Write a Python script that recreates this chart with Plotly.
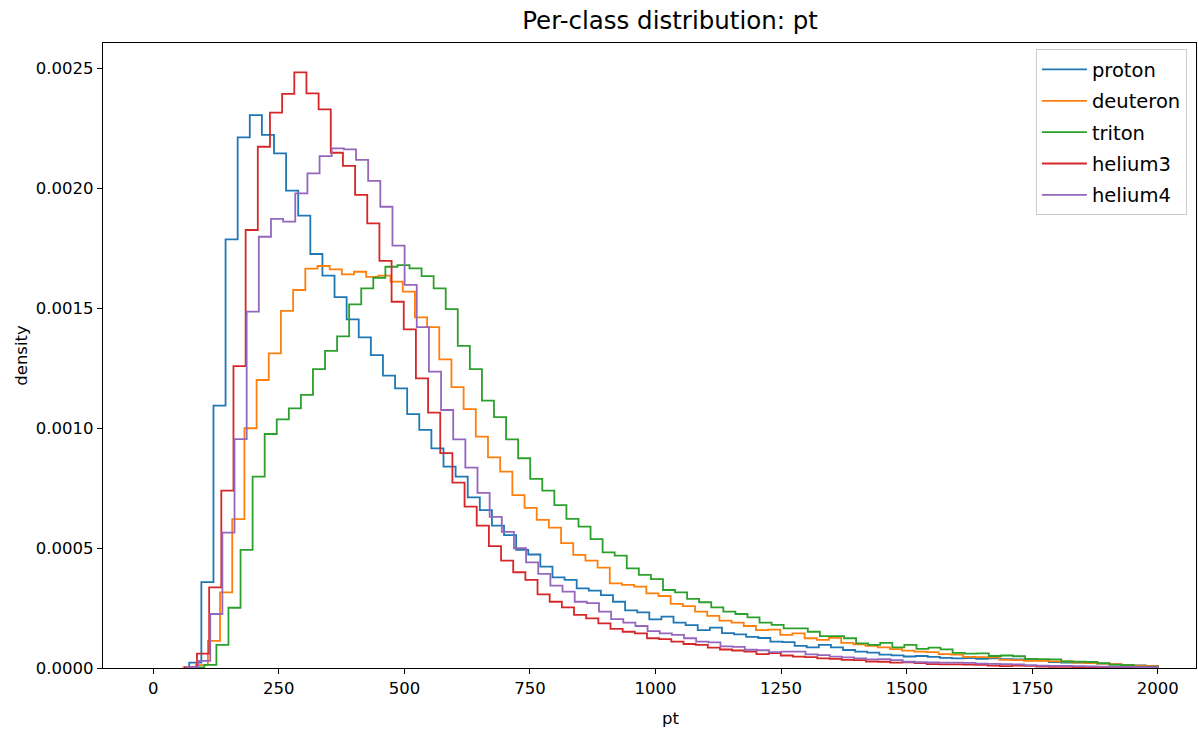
import numpy as np
import plotly.graph_objects as go

classes = ["proton", "deuteron", "triton", "helium3", "helium4"]
colors = ["#1f77b4", "#ff7f0e", "#2ca02c", "#d62728", "#9467bd"]

# per-class histogram range (80 bins each, up to pt = 2000)
n_bins = 80
pt_max = 2000.0
pt_min = {"proton": 71.7, "deuteron": 60.3, "triton": 77.7, "helium3": 62.9, "helium4": 65.1}

proton = [0.000022, 0.000358, 0.001093, 0.001786, 0.002211, 0.002304, 0.002221, 0.002144, 0.001989, 0.001885,
          0.001725, 0.001635, 0.001545, 0.001453, 0.001378, 0.001304, 0.001218, 0.001165, 0.001058, 0.000992,
          0.000915, 0.000839, 0.000797, 0.000711, 0.000658, 0.000593, 0.000554, 0.000492, 0.000473, 0.000422,
          0.000378, 0.000367, 0.000332, 0.000322, 0.000304, 0.000276, 0.000240, 0.000232, 0.000203, 0.000214,
          0.000189, 0.000179, 0.000158, 0.000168, 0.000145, 0.000140, 0.000130, 0.000125, 0.000110, 0.000108,
          0.000092, 0.000086, 0.000096, 0.000086, 0.000075, 0.000068, 0.000064, 0.000056, 0.000053, 0.000048,
          0.000050, 0.000046, 0.000042, 0.000040, 0.000041, 0.000038, 0.000040, 0.000037, 0.000036, 0.000033,
          0.000032, 0.000025, 0.000023, 0.000022, 0.000020, 0.000018, 0.000016, 0.000013, 0.000011, 0.000009]

deuteron = [0.000004, 0.000012, 0.000113, 0.000315, 0.000620, 0.000999, 0.001200, 0.001311, 0.001488, 0.001575,
            0.001664, 0.001675, 0.001661, 0.001640, 0.001651, 0.001630, 0.001635, 0.001610, 0.001568, 0.001461,
            0.001420, 0.001286, 0.001170, 0.001079, 0.000964, 0.000878, 0.000818, 0.000720, 0.000667, 0.000617,
            0.000585, 0.000520, 0.000471, 0.000447, 0.000418, 0.000353, 0.000346, 0.000339, 0.000311, 0.000300,
            0.000267, 0.000258, 0.000235, 0.000217, 0.000197, 0.000189, 0.000175, 0.000158, 0.000160, 0.000138,
            0.000144, 0.000124, 0.000117, 0.000126, 0.000105, 0.000099, 0.000092, 0.000086, 0.000079, 0.000072,
            0.000068, 0.000066, 0.000058, 0.000056, 0.000046, 0.000045, 0.000044, 0.000034, 0.000033, 0.000030,
            0.000030, 0.000028, 0.000027, 0.000022, 0.000020, 0.000018, 0.000016, 0.000012, 0.000010, 0.000008]

triton = [0.000002, 0.000013, 0.000096, 0.000251, 0.000492, 0.000797, 0.000975, 0.001036, 0.001082, 0.001138,
          0.001245, 0.001321, 0.001382, 0.001515, 0.001582, 0.001626, 0.001672, 0.001679, 0.001665, 0.001633,
          0.001582, 0.001495, 0.001342, 0.001245, 0.001114, 0.001045, 0.000953, 0.000874, 0.000788, 0.000739,
          0.000679, 0.000621, 0.000589, 0.000537, 0.000482, 0.000468, 0.000415, 0.000388, 0.000370, 0.000325,
          0.000315, 0.000288, 0.000274, 0.000253, 0.000235, 0.000225, 0.000211, 0.000189, 0.000180, 0.000165,
          0.000165, 0.000151, 0.000133, 0.000133, 0.000124, 0.000103, 0.000096, 0.000105, 0.000086, 0.000096,
          0.000080, 0.000085, 0.000078, 0.000063, 0.000060, 0.000061, 0.000050, 0.000052, 0.000049, 0.000038,
          0.000037, 0.000036, 0.000027, 0.000026, 0.000025, 0.000020, 0.000013, 0.000012, 0.000006, 0.000005]

helium3 = [0.000003, 0.000060, 0.000336, 0.000739, 0.001258, 0.001825, 0.002172, 0.002314, 0.002392, 0.002482,
           0.002394, 0.002328, 0.002147, 0.002092, 0.001971, 0.001853, 0.001696, 0.001526, 0.001411, 0.001207,
           0.001064, 0.000895, 0.000772, 0.000672, 0.000593, 0.000508, 0.000447, 0.000399, 0.000367, 0.000307,
           0.000276, 0.000253, 0.000221, 0.000207, 0.000186, 0.000163, 0.000151, 0.000144, 0.000124, 0.000120,
           0.000110, 0.000100, 0.000096, 0.000085, 0.000077, 0.000073, 0.000068, 0.000058, 0.000062, 0.000052,
           0.000047, 0.000045, 0.000040, 0.000038, 0.000034, 0.000033, 0.000027, 0.000026, 0.000022, 0.000024,
           0.000020, 0.000016, 0.000015, 0.000015, 0.000014, 0.000013, 0.000010, 0.000008, 0.000010, 0.000009,
           0.000006, 0.000005, 0.000005, 0.000004, 0.000004, 0.000003, 0.000003, 0.000002, 0.000002, 0.000001]

helium4 = [0.000004, 0.000030, 0.000225, 0.000564, 0.000954, 0.001485, 0.001797, 0.001871, 0.001860, 0.001978,
           0.002061, 0.002133, 0.002165, 0.002161, 0.002117, 0.002030, 0.001922, 0.001760, 0.001596, 0.001420,
           0.001235, 0.001075, 0.000953, 0.000835, 0.000730, 0.000630, 0.000567, 0.000499, 0.000440, 0.000392,
           0.000343, 0.000318, 0.000276, 0.000270, 0.000235, 0.000204, 0.000189, 0.000175, 0.000154, 0.000144,
           0.000138, 0.000124, 0.000110, 0.000107, 0.000090, 0.000088, 0.000076, 0.000074, 0.000066, 0.000068,
           0.000068, 0.000057, 0.000054, 0.000047, 0.000044, 0.000040, 0.000036, 0.000037, 0.000033, 0.000026,
           0.000024, 0.000023, 0.000022, 0.000022, 0.000021, 0.000018, 0.000017, 0.000016, 0.000015, 0.000012,
           0.000010, 0.000009, 0.000009, 0.000008, 0.000007, 0.000006, 0.000005, 0.000005, 0.000004, 0.000003]

densities = {"proton": proton, "deuteron": deuteron, "triton": triton, "helium3": helium3, "helium4": helium4}

x_ticks = [0, 250, 500, 750, 1000, 1250, 1500, 1750, 2000]
y_ticks = [0.0, 0.0005, 0.0010, 0.0015, 0.0020, 0.0025]

FONT = "DejaVu Sans"
TICK = 16.5

fig = go.Figure()
for name, col in zip(classes, colors):
    edges = np.linspace(pt_min[name], pt_max, n_bins + 1)
    vals = list(densities[name])
    xs = [edges[0]] + list(edges)
    ys = [0.0] + vals + [0.0]
    fig.add_trace(go.Scatter(
        x=xs, y=ys, mode="lines", name=name, legendgroup=name,
        line=dict(color=col, width=1.8, shape="hv"),
        hoverinfo="skip",
    ))

fig.update_layout(
    width=1198, height=735,
    margin=dict(l=103, r=2, t=43, b=67),
    paper_bgcolor="white", plot_bgcolor="white",
    font=dict(family=FONT, size=TICK, color="black"),
    title=dict(text="Per-class distribution: pt", x=0.5593, xanchor="center",
               y=1 - 20 / 735, yanchor="middle", font=dict(size=24.5, family=FONT)),
    showlegend=True,
    legend=dict(x=0.9917, xanchor="right", y=0.99, yanchor="top",
                bgcolor="rgba(255,255,255,0.8)", bordercolor="#cccccc", borderwidth=1,
                font=dict(size=19.5, family=FONT), tracegroupgap=3,
                itemwidth=45),
    annotations=[dict(text="pt", xref="paper", yref="paper",
                      x=(670 - 103) / 1093, y=(668 - 718) / 625,
                      xanchor="center", yanchor="middle", showarrow=False,
                      font=dict(size=TICK, family=FONT))],
)
fig.update_xaxes(
    range=[-100, 2076], tickvals=x_ticks, ticktext=[str(v) for v in x_ticks],
    showline=True, linecolor="black", linewidth=1.2, mirror=True,
    ticks="outside", ticklen=5, tickwidth=1.2, tickcolor="black",
    showgrid=False, zeroline=False,
    tickfont=dict(size=TICK, family=FONT),
)
fig.update_yaxes(
    range=[0, 0.0026042], tickvals=y_ticks, ticktext=["%.4f" % v for v in y_ticks],
    showline=True, linecolor="black", linewidth=1.2, mirror=True,
    ticks="outside", ticklen=5, tickwidth=1.2, tickcolor="black",
    showgrid=False, zeroline=False,
    title=dict(text="density", font=dict(size=TICK, family=FONT), standoff=4),
    tickfont=dict(size=TICK, family=FONT),
)

fig.write_html("out.html")
